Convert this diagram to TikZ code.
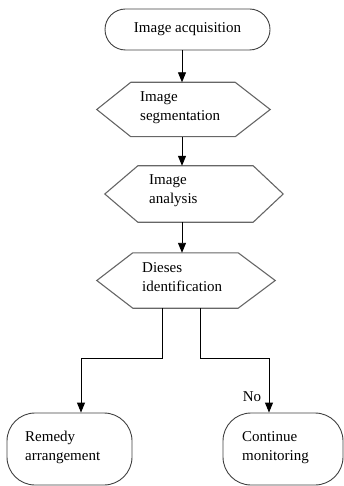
\documentclass[tikz,border=0pt]{standalone}
\usepackage{fontspec}
\setmainfont{Liberation Serif}
\usetikzlibrary{arrows.meta,shapes.misc}
\begin{document}
\begin{tikzpicture}[x=1pt,y=-1pt,
  every node/.style={font=\fontsize{15}{19}\selectfont},
  frame/.style={draw=black!75,line width=0.9pt},
  hexbox/.style={draw=none,inner sep=0pt,minimum width=#1},
  hexline/.style={draw=black!60,line width=1.1pt},
  endbox/.style={draw=black!75,line width=0.9pt,rounded corners=28pt,minimum height=72pt,inner sep=0pt},
  lbl/.style={anchor=west,align=left,inner sep=0pt},
  arr/.style={draw=black,line width=0.9pt,-{Triangle[width=8pt,length=10pt]}},
  ln/.style={draw=black,line width=0.9pt}]
\useasboundingbox (0,0) rectangle (344,486);
\coordinate (axis) at (182,0);
% top terminal
\node[rounded rectangle,frame,minimum width=165pt,minimum height=41pt,inner sep=0pt] (acq) at (187.5,29.5) {Image acquisition};
% hexagon 1
\node[hexbox=173pt,minimum height=54pt] (h1) at (183.5,109.5) {};
\draw[hexline] (h1.west) -- ([xshift=34pt]h1.north west) -- ([xshift=-35pt]h1.north east) -- (h1.east)
  -- ([xshift=-35pt]h1.south east) -- ([xshift=34pt]h1.south west) -- cycle;
\node[lbl] (t1) at (140,108) {Image\\segmentation};
% hexagon 2
\node[hexbox=178pt,minimum height=56pt] (h2) at (194,194) {};
\draw[hexline] (h2.west) -- ([xshift=33pt]h2.north west) -- ([xshift=-30pt]h2.north east) -- (h2.east)
  -- ([xshift=-30pt]h2.south east) -- ([xshift=33pt]h2.south west) -- cycle;
\node[lbl] (t2) at (149,191) {Image\\analysis};
% hexagon 3
\node[hexbox=178pt,minimum height=55pt] (h3) at (186,280.5) {};
\draw[hexline] (h3.west) -- ([xshift=36pt]h3.north west) -- ([xshift=-37pt]h3.north east) -- (h3.east)
  -- ([xshift=-37pt]h3.south east) -- ([xshift=36pt]h3.south west) -- cycle;
\node[lbl] (t3) at (142,277.5) {Dieses\\identification};
% bottom boxes
\node[endbox,minimum width=125pt] (rem) at (69.5,449) {};
\node[lbl] (t4) at (25,447.5) {Remedy\\arrangement};
\node[endbox,minimum width=120pt] (cont) at (283,449) {};
\node[lbl] (t5) at (242,447.5) {Continue\\monitoring};
% branch points
\coordinate (bl) at (162,0);
\coordinate (br) at (200,0);
\coordinate (lvl) at (0,358);
% connectors
\draw[arr] (acq.south -| axis) -- (h1.north -| axis);
\draw[arr] (h1.south -| axis) -- (h2.north -| axis);
\draw[arr] (h2.south -| axis) -- (h3.north -| axis);
\draw[arr] (h3.south -| bl) -- (lvl -| bl) -| ([xshift=11.5pt]rem.north);
\draw[arr] (h3.south -| br) -- (lvl -| br) -| ([xshift=-14pt]cont.north);
\node[inner sep=0pt] (no) at (252,397) {No};
\end{tikzpicture}
\end{document}
